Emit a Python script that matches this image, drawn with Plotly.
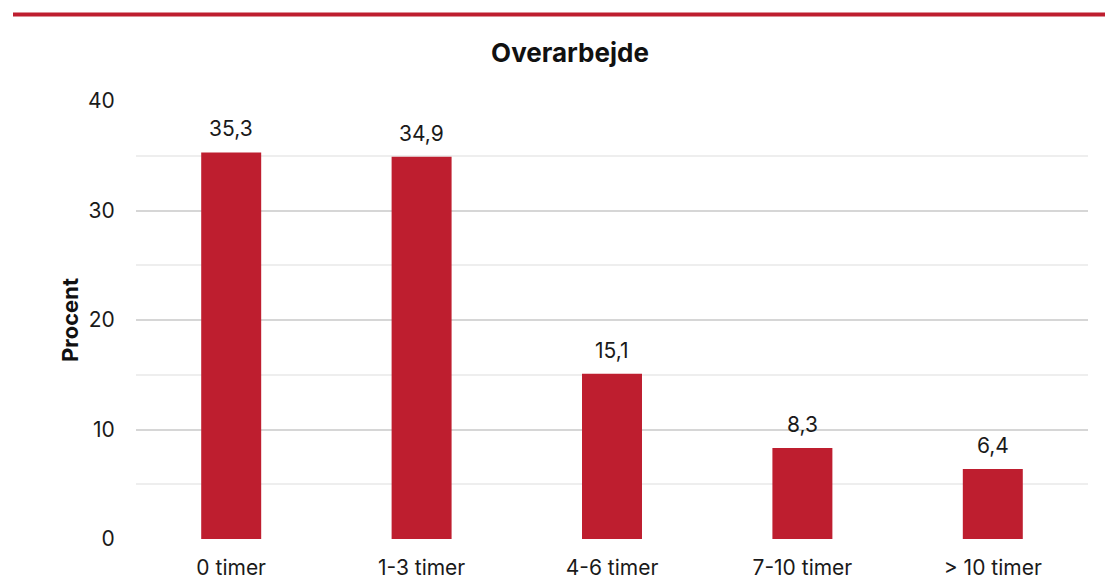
import plotly.graph_objects as go

categories = ["0 timer", "1-3 timer", "4-6 timer", "7-10 timer", "> 10 timer"]
values = [35.3, 34.9, 15.1, 8.3, 6.4]
y_ticks = [0, 10, 20, 30, 40]

RED = "#BE1E2F"
FONT = "Inter"
TXT = "#1a1a1a"

fig = go.Figure()
fig.add_trace(go.Bar(
    x=categories,
    y=values,
    marker=dict(color=RED, line=dict(width=0)),
    hoverinfo="x+y",
))

# value labels above each bar, with comma decimals
for c, v in zip(categories, values):
    fig.add_annotation(
        x=c, y=v, xref="x", yref="y",
        text=f"{v:.1f}".replace(".", ","),
        showarrow=False, yanchor="bottom", yshift=9,
        font=dict(family=FONT, size=21, color=TXT),
    )

# y-axis title
fig.add_annotation(
    x=(70 - 136) / 952, y=0.5, xref="paper", yref="paper",
    xanchor="center", yanchor="middle",
    text="<b>Procent</b>", showarrow=False, textangle=-90,
    font=dict(family=FONT, size=22, color="#111"),
)

# red rule across the top
fig.add_shape(
    type="line", xref="paper", yref="paper",
    x0=(13 - 136) / 952, x1=(1105 - 136) / 952,
    y0=(539 - 14.5) / 438, y1=(539 - 14.5) / 438,
    line=dict(color=RED, width=4),
)

fig.update_layout(
    width=1105, height=579,
    margin=dict(l=136, r=17, t=101, b=40, autoexpand=False),
    paper_bgcolor="white", plot_bgcolor="white",
    bargap=0.685,
    showlegend=False,
    font=dict(family=FONT, size=21, color=TXT),
    title=dict(
        text="<b>Overarbejde</b>", x=570 / 1105, xanchor="center",
        y=1 - 53 / 579, yanchor="middle", xref="container", yref="container",
        font=dict(family=FONT, size=26, color="#111"),
    ),
    xaxis=dict(
        automargin=False,
        showgrid=False, zeroline=False, showline=False,
        ticks="outside", ticklen=10, tickcolor="rgba(0,0,0,0)",
        tickfont=dict(family=FONT, size=21, color=TXT),
    ),
    yaxis=dict(
        automargin=False,
        range=[0, 40], tickvals=y_ticks,
        showgrid=True, gridcolor="#d6d6d6", gridwidth=2,
        minor=dict(dtick=5, showgrid=True, gridcolor="#eeeeee", gridwidth=1.5),
        zeroline=False, showline=False,
        ticks="outside", ticklen=16, tickcolor="rgba(0,0,0,0)",
        tickfont=dict(family=FONT, size=21, color=TXT),
    ),
)

fig.write_html("out.html")
